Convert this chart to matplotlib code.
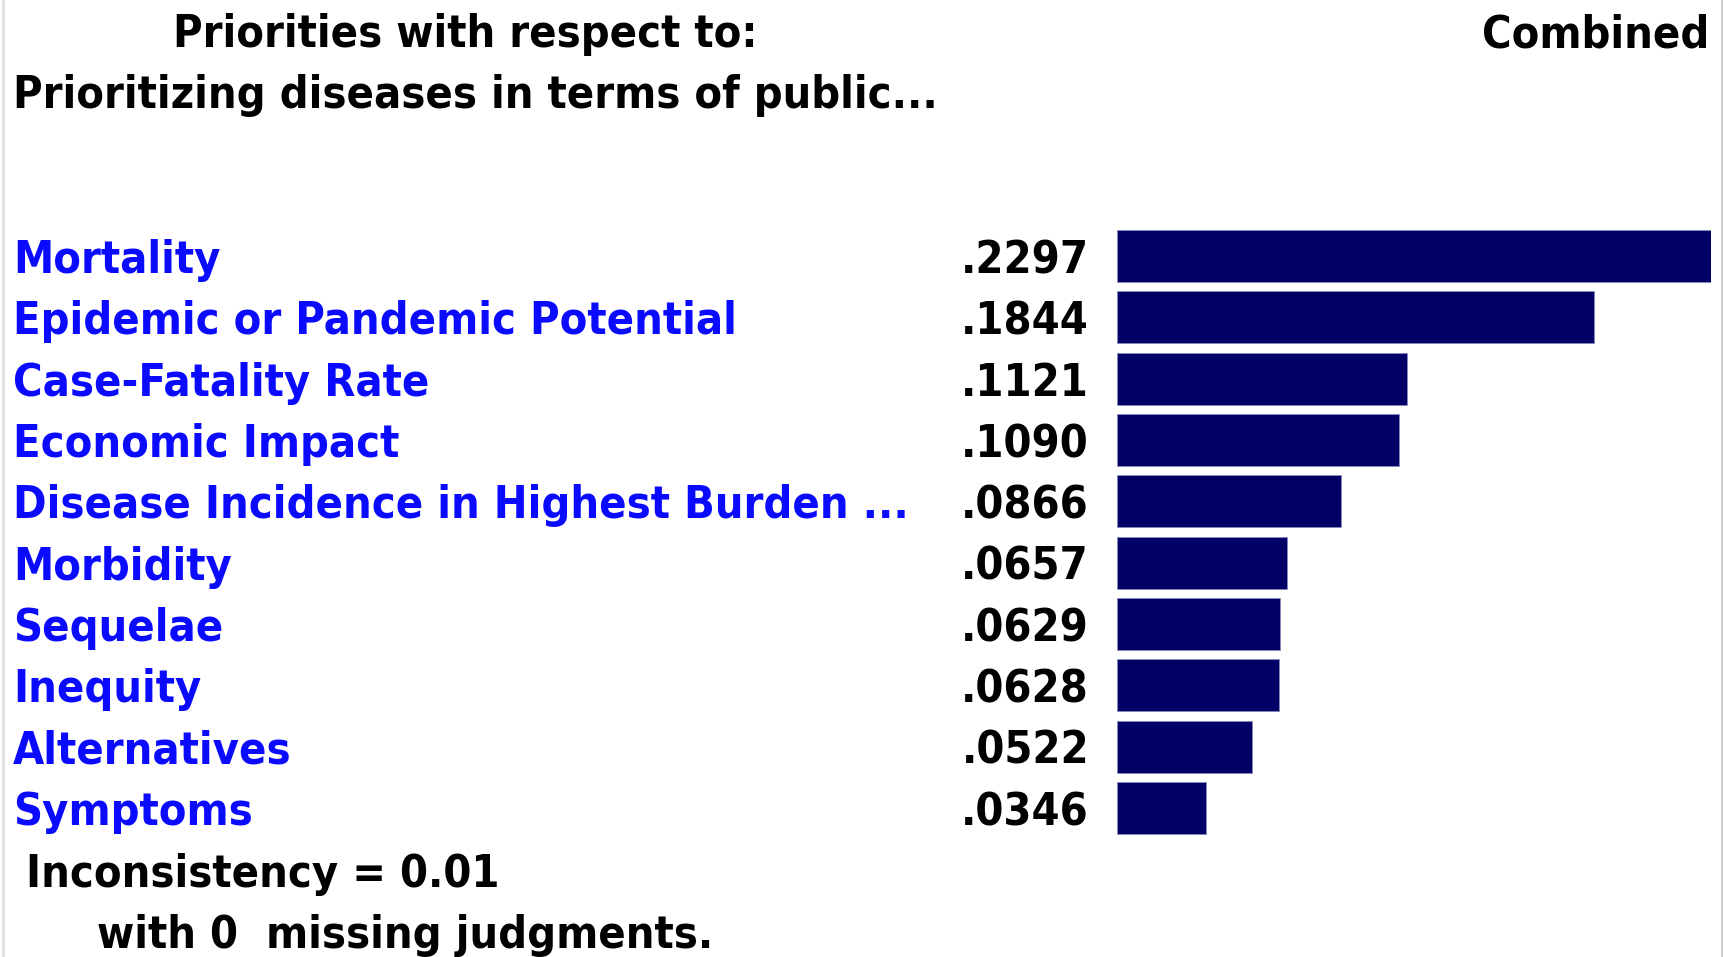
import matplotlib
matplotlib.use("Agg")
import matplotlib.pyplot as plt
from matplotlib.transforms import blended_transform_factory
from matplotlib import font_manager

W, H = 1724, 957
categories = ["Mortality", "Epidemic or Pandemic Potential", "Case-Fatality Rate",
              "Economic Impact", "Disease Incidence in Highest Burden ...", "Morbidity",
              "Sequelae", "Inequity", "Alternatives", "Symptoms"]
values = [0.2297, 0.1844, 0.1121, 0.1090, 0.0866, 0.0657, 0.0629, 0.0628, 0.0522, 0.0346]
value_labels = [".2297", ".1844", ".1121", ".1090", ".0866", ".0657", ".0629", ".0628", ".0522", ".0346"]
title1 = "Priorities with respect to:"
title2 = "Prioritizing diseases in terms of public..."
right_title = "Combined"
foot1 = "Inconsistency = 0.01"
foot2 = "with 0  missing judgments."

# prefer a condensed DejaVu (Tahoma-like proportions) if installed
cond = [f for f in font_manager.fontManager.ttflist
        if f.name == "DejaVu Sans" and f.stretch == "condensed" and f.weight in ("bold", 700)]
if cond:
    FONT = dict(family="DejaVu Sans", weight="bold", stretch="condensed")
else:
    FONT = dict(family="DejaVu Sans", weight="bold")

fig = plt.figure(figsize=(W / 100, H / 100), dpi=100)
fig.patch.set_facecolor("white")

# bar axes region (pixels)
x0, x1 = 1117, 1711
row_top, row_bot = 256, 808
pitch = (row_bot - row_top) / (len(categories) - 1)
y_top = row_top - pitch / 2
y_bot = row_bot + pitch / 2
ax = fig.add_axes([x0 / W, 1 - y_bot / H, (x1 - x0) / W, (y_bot - y_top) / H])
ypos = list(range(len(categories)))
ax.barh(ypos, values, height=0.85, color="#000066", edgecolor="#8888bb", linewidth=0.6)
ax.set_xlim(0, max(values))
ax.set_ylim(len(categories) - 0.5, -0.5)
ax.axis("off")

renderer = fig.canvas.get_renderer()

def fit_size(s, target_px, base=30):
    t = fig.text(0, 0, s, fontsize=base, **FONT)
    w = t.get_window_extent(renderer).width
    t.remove()
    return base * target_px / w

fs = (fit_size(categories[4], 898) + fit_size(categories[1], 723) + fit_size(title2, 919)) / 3

blend = blended_transform_factory(fig.transFigure, ax.transData)
for i, (c, v) in enumerate(zip(categories, value_labels)):
    ax.text(13 / W, i, c, transform=blend, ha="left", va="center_baseline",
            color="#0a0aff", fontsize=fs, **FONT)
    ax.text(1089 / W, i, v, transform=blend, ha="right", va="center_baseline",
            color="black", fontsize=fs, **FONT)

def ftext(xp, yp, s, ha="left"):
    fig.text(xp / W, 1 - yp / H, s, ha=ha, va="center_baseline", fontsize=fs,
             color="black", **FONT)

ftext(173, 30, title1)
ftext(13, 91, title2)
ftext(1709, 30, right_title, ha="right")
ftext(26, 870, foot1)
ftext(97, 931, foot2)

# light border lines at left and right edges
fig.add_artist(plt.Line2D([3 / W, 3 / W], [0, 1], color="#e0e0e0", lw=2, transform=fig.transFigure))
fig.add_artist(plt.Line2D([1722 / W, 1722 / W], [0, 1], color="#d0d0d0", lw=2, transform=fig.transFigure))

fig.savefig("out.png", dpi=100, facecolor="white")
